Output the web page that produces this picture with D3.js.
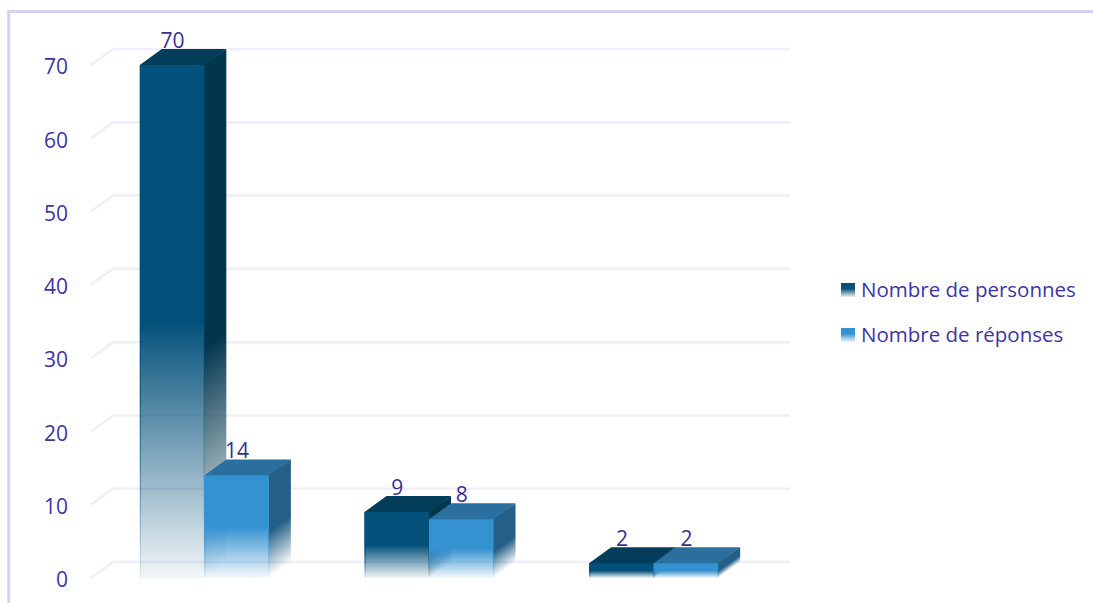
<!DOCTYPE html>
<html lang="fr">
<head>
<meta charset="utf-8">
<title>Nombre de personnes et de réponses</title>
<script src="https://cdn.jsdelivr.net/npm/d3@7/dist/d3.min.js"></script>
<style>
  html, body { margin: 0; padding: 0; background: #fff; overflow: hidden; }
  svg { display: block; }
  text { font-family: "Open Sans", "Noto Sans", sans-serif; }
</style>
</head>
<body>
<svg id="chart" width="1093" height="603"></svg>
<script>
// Chart values
const categories = ["Groupe 1", "Groupe 2", "Groupe 3"];
const seriesNames = ["Nombre de personnes", "Nombre de réponses"];
const personnes = [70, 9, 2];
const reponses = [14, 8, 2];
const yTicks = [0, 10, 20, 30, 40, 50, 60, 70];

// Face colours per series
const seriesValues = [personnes, reponses];
const frontColors = ["#03507a", "#3592d1"];
const topColors = ["#033d5a", "#2a6f9e"];
const sideColors = ["#02364d", "#235f87"];
const inkColor = "#3d35a3";
const labelColor = "#38308f";

const margin = { left: 92, right: 766, top: 65, bottom: 578 };
const depth = { x: 22, y: 16 };

const svg = d3.select("#chart");
const defs = svg.append("defs");

const x0 = d3.scaleBand().domain(categories).range([margin.left, margin.right]);
const x1 = d3.scaleBand().domain(seriesNames).range([0, x0.bandwidth()]).padding(0).paddingOuter(0.741);
const y = d3.scaleLinear().domain([0, 70]).range([margin.bottom, margin.top]);

// Outer frame: left and top edges only
svg.append("path")
  .attr("d", d3.line()([[8.7, 603], [8.7, 11.5], [1093, 11.5]]))
  .attr("fill", "none")
  .attr("stroke", "#d5d1f1")
  .attr("stroke-width", 3);

// Receding gridlines
const grid = svg.append("g").attr("fill", "none").attr("stroke", "#f0eefa").attr("stroke-width", 2.5);
grid.selectAll("path").data(yTicks).join("path")
  .attr("d", d => d3.line()([
    [margin.left - 1, y(d)],
    [margin.left - 1 + depth.x, y(d) - depth.y],
    [790, y(d) - depth.y]
  ]));

// Value axis
const axis = svg.append("g")
  .attr("transform", "translate(68,0)")
  .call(d3.axisLeft(y).tickValues(yTicks).tickSize(0).tickPadding(0));
axis.select(".domain").remove();
axis.selectAll("text")
  .attr("font-size", 21)
  .attr("fill", inkColor)
  .attr("dy", "0.42em");

// Vertical fade shared by the front faces
seriesNames.forEach((name, i) => {
  const g = defs.append("linearGradient")
    .attr("id", "front" + i)
    .attr("x1", 0).attr("y1", 0).attr("x2", 0).attr("y2", 1);
  g.append("stop").attr("offset", 0.5).attr("stop-color", frontColors[i]).attr("stop-opacity", 1);
  g.append("stop").attr("offset", 1).attr("stop-color", frontColors[i]).attr("stop-opacity", 0.05);
});

function swatchGradient(i) {
  const g = defs.append("linearGradient")
    .attr("id", "swatch" + i)
    .attr("x1", 0).attr("y1", 0).attr("x2", 0).attr("y2", 1);
  g.append("stop").attr("offset", 0.4).attr("stop-color", frontColors[i]).attr("stop-opacity", 1);
  g.append("stop").attr("offset", 1).attr("stop-color", frontColors[i]).attr("stop-opacity", 0.08);
}
seriesNames.forEach((_, i) => swatchGradient(i));

// Bars, group by group, so that each series overlaps the previous one
const marks = svg.append("g");
categories.forEach((cat, c) => {
  seriesNames.forEach((name, s) => {
    const v = seriesValues[s][c];
    const left = x0(cat) + x1(name);
    const w = x1.bandwidth();
    const top = y(v);
    const base = y(0);
    const right = left + w;
    const h = base - top;
    const seam = 0.6; // faces run slightly under each other to hide hairline gaps

    // Side fade runs across the slanted face, parallel to its top edge
    const nLen = Math.hypot(depth.y, depth.x);
    const along = h * depth.x / nLen;
    const sideId = `side${c}-${s}`;
    const sg = defs.append("linearGradient")
      .attr("id", sideId)
      .attr("gradientUnits", "userSpaceOnUse")
      .attr("x1", right).attr("y1", top)
      .attr("x2", right + along * depth.y / nLen)
      .attr("y2", top + along * depth.x / nLen);
    sg.append("stop").attr("offset", 0.55).attr("stop-color", sideColors[s]).attr("stop-opacity", 1);
    sg.append("stop").attr("offset", 1).attr("stop-color", sideColors[s]).attr("stop-opacity", 0);

    const bar = marks.append("g");
    bar.append("path")
      .attr("d", d3.line()([[right - seam, top], [right - seam, top - seam], [right + depth.x, top - depth.y], [right + depth.x, base - depth.y], [right - seam, base]]) + "Z")
      .attr("fill", `url(#${sideId})`);
    bar.append("path")
      .attr("d", d3.line()([[left, top + seam], [left, top], [left + depth.x, top - depth.y], [right + depth.x, top - depth.y], [right, top], [right, top + seam]]) + "Z")
      .attr("fill", topColors[s]);
    bar.append("rect")
      .attr("x", left).attr("y", top).attr("width", w).attr("height", h)
      .attr("fill", `url(#front${s})`);
    // Darker left edge along the fading part of the face
    bar.append("rect")
      .attr("x", left).attr("y", top).attr("width", 1.2).attr("height", h)
      .attr("fill", `url(#front${s})`);
  });
});

// Value labels sit on the rear edge of each bar's top face
categories.forEach((cat, c) => {
  seriesNames.forEach((name, s) => {
    const v = seriesValues[s][c];
    svg.append("text")
      .attr("x", x0(cat) + x1(name) + x1.bandwidth() / 2 + 0.5)
      .attr("y", y(v) - depth.y - 1)
      .attr("text-anchor", "middle")
      .attr("font-size", 21)
      .attr("fill", labelColor)
      .text(v);
  });
});

// Legend
const legendY = d3.scalePoint().domain(seriesNames).range([290, 335]);
const legend = svg.append("g");
seriesNames.forEach((name, i) => {
  legend.append("rect")
    .attr("x", 841).attr("y", legendY(name) - 7).attr("width", 14).attr("height", 14)
    .attr("fill", `url(#swatch${i})`);
  legend.append("text")
    .attr("x", 861).attr("y", legendY(name) + 7)
    .attr("font-size", 20.5)
    .attr("fill", inkColor)
    .text(name);
});
</script>
</body>
</html>
